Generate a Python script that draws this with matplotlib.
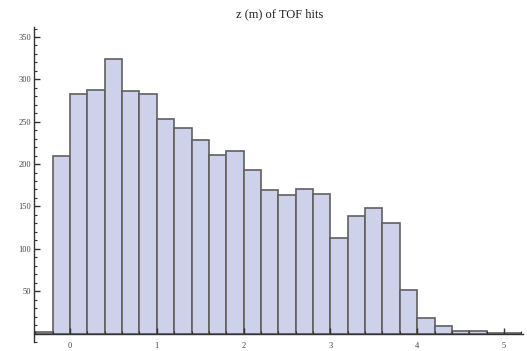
import matplotlib.pyplot as plt
import numpy as np
from matplotlib.ticker import MultipleLocator, FixedLocator

# left edges of the bins (m) and counts
bin_left = [-0.4, -0.2, 0.0, 0.2, 0.4, 0.6, 0.8, 1.0, 1.2, 1.4, 1.6, 1.8, 2.0, 2.2,
            2.4, 2.6, 2.8, 3.0, 3.2, 3.4, 3.6, 3.8, 4.0, 4.2, 4.4, 4.6, 4.8, 5.0]
counts = [2, 210, 283, 288, 324, 286, 283, 253, 243, 229, 211, 215, 193, 169,
          163, 170, 165, 113, 139, 148, 131, 51, 18, 9, 3, 3, 1, 1]
bin_width = 0.2

x_ticks = [0, 1, 2, 3, 4, 5]
y_ticks = [50, 100, 150, 200, 250, 300, 350]
title = "z (m) of TOF hits"

plt.rcParams['font.family'] = ['Liberation Serif', 'DejaVu Serif']

fig = plt.figure(figsize=(5.27, 3.51), dpi=100)
ax = fig.add_axes([0.0645, 0.0256, 0.928, 0.898])

ax.bar(bin_left, counts, width=bin_width, align='edge',
       color='#cdd1ea', edgecolor='#606060', linewidth=1.2)

ax.set_xlim(-0.415, 5.22)
ax.set_ylim(-10, 362)

# Mathematica-like axes: x axis at y=0, y axis on the left
ax.spines['top'].set_visible(False)
ax.spines['right'].set_visible(False)
ax.spines['bottom'].set_position(('data', 0))
for s in ['left', 'bottom']:
    ax.spines[s].set_color('#333333')
    ax.spines[s].set_linewidth(1.0)

ax.xaxis.set_major_locator(FixedLocator(x_ticks))
ax.xaxis.set_minor_locator(MultipleLocator(0.2))
ax.yaxis.set_major_locator(FixedLocator(y_ticks))
ax.yaxis.set_minor_locator(MultipleLocator(10))
ax.tick_params(axis='both', which='major', direction='in', length=4, width=1.0,
               color='#333333', labelsize=6, labelcolor='#444444')
ax.tick_params(axis='both', which='minor', direction='in', length=2.5, width=0.8,
               color='#333333')
ax.tick_params(axis='x', which='major', pad=6)
ax.tick_params(axis='y', which='major', pad=2)

fig.text(280 / 527, 1 - 14 / 351, title, ha='center', va='center',
         fontsize=9, color='#222222')

fig.savefig("out.png", dpi=100)
